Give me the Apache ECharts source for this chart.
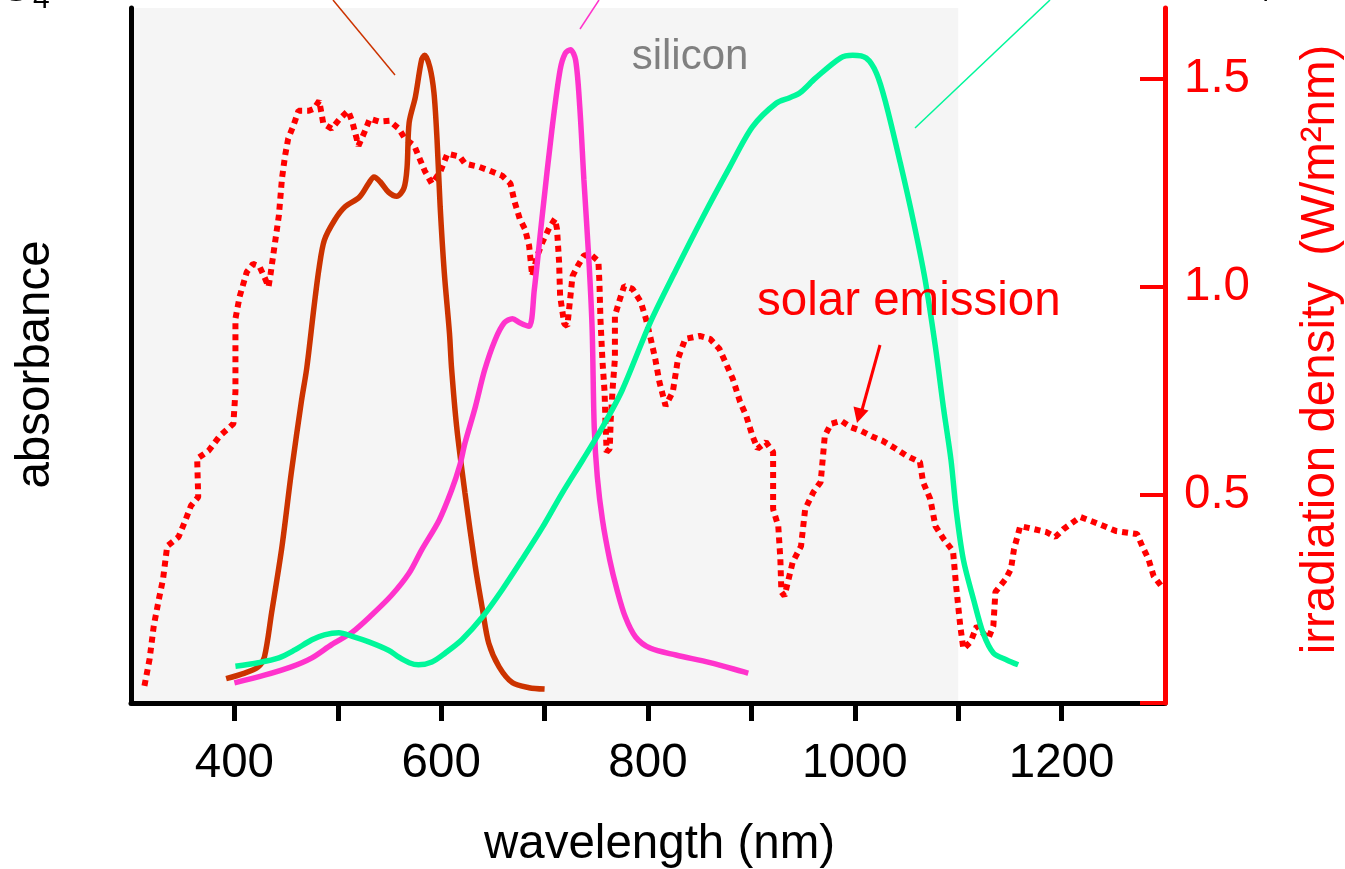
<!DOCTYPE html>
<html><head><meta charset="utf-8">
<script src="https://cdn.jsdelivr.net/npm/echarts@6/dist/echarts.min.js"></script>
<style>html,body{margin:0;padding:0;background:#fff;overflow:hidden}#c{width:1345px;height:869px}</style>
</head><body><div id="c"></div>
<script>
// wavelength (nm), absorbance (arb.) — dye 1 (brown)
const brownCurve = [[392,0.035],[410,0.043],[423,0.052],[429,0.066],[436,0.13],[446,0.225],[455,0.331],[465,0.436],[470,0.482],[477,0.570],[482,0.627],[487,0.666],[497,0.695],[507,0.714],[521,0.728],[530,0.748],[535,0.757],[541,0.750],[549,0.735],[557,0.729],[564,0.741],[567,0.771],[569,0.835],[575,0.872],[581,0.925],[584,0.932],[589,0.915],[593,0.878],[596,0.810],[599,0.714],[603,0.619],[608,0.532],[610,0.482],[615,0.397],[623,0.302],[633,0.196],[640,0.134],[646,0.086],[656,0.052],[669,0.029],[685,0.022],[700,0.020]];
// dye 2 (pink)
const pinkCurve = [[400,0.029],[429,0.040],[455,0.052],[475,0.065],[494,0.084],[514,0.102],[533,0.127],[552,0.155],[569,0.187],[581,0.220],[598,0.263],[610,0.306],[618,0.342],[623,0.374],[633,0.426],[642,0.479],[652,0.522],[661,0.547],[669,0.553],[676,0.547],[685,0.542],[690,0.594],[698,0.705],[707,0.824],[715,0.911],[720,0.935],[725,0.940],[730,0.925],[734,0.858],[738,0.753],[743,0.633],[746,0.537],[748,0.397],[751,0.325],[756,0.263],[763,0.206],[770,0.163],[778,0.124],[788,0.095],[802,0.079],[827,0.069],[860,0.058],[897,0.043]];
// dye 3 (green)
const greenCurve = [[401,0.053],[423,0.058],[443,0.065],[458,0.076],[475,0.091],[487,0.098],[501,0.101],[514,0.096],[530,0.088],[549,0.076],[559,0.066],[569,0.058],[578,0.055],[591,0.059],[604,0.072],[620,0.091],[640,0.124],[659,0.163],[678,0.206],[698,0.253],[717,0.302],[737,0.350],[756,0.397],[775,0.450],[802,0.547],[827,0.623],[853,0.699],[879,0.771],[901,0.829],[924,0.863],[937,0.871],[947,0.878],[962,0.899],[986,0.928],[998,0.932],[1011,0.928],[1021,0.906],[1030,0.863],[1044,0.777],[1057,0.691],[1068,0.609],[1078,0.512],[1086,0.422],[1093,0.350],[1098,0.278],[1105,0.206],[1115,0.148],[1124,0.101],[1134,0.072],[1147,0.062],[1158,0.055]];
// solar irradiation density (W/m2nm)
const solarCurve = [[313,0.041],[318,0.106],[322,0.185],[327,0.250],[331,0.298],[335,0.377],[346,0.399],[352,0.435],[358,0.474],[365,0.495],[364,0.587],[375,0.606],[386,0.642],[399,0.671],[401,0.748],[401,0.923],[405,0.976],[412,1.036],[418,1.055],[424,1.050],[429,1.024],[433,1.000],[435,1.031],[438,1.084],[443,1.171],[446,1.260],[449,1.315],[452,1.356],[457,1.387],[462,1.423],[472,1.423],[477,1.428],[482,1.447],[486,1.392],[494,1.380],[502,1.404],[510,1.423],[514,1.397],[520,1.339],[526,1.373],[531,1.404],[540,1.397],[550,1.399],[559,1.380],[565,1.356],[574,1.339],[578,1.315],[584,1.279],[591,1.248],[599,1.276],[606,1.320],[618,1.313],[623,1.296],[637,1.288],[647,1.279],[659,1.267],[667,1.248],[671,1.204],[676,1.163],[681,1.139],[685,1.099],[688,1.026],[693,1.075],[698,1.108],[705,1.144],[710,1.163],[712,1.139],[714,1.060],[715,0.978],[719,0.911],[722,0.906],[725,0.978],[727,1.026],[732,1.050],[738,1.075],[744,1.079],[752,1.062],[753,1.012],[754,0.923],[756,0.820],[758,0.748],[759,0.666],[760,0.603],[763,0.611],[764,0.683],[766,0.762],[768,0.827],[768,0.930],[772,0.964],[777,1.002],[785,0.995],[793,0.964],[798,0.923],[802,0.882],[807,0.827],[811,0.772],[817,0.714],[824,0.748],[829,0.827],[836,0.875],[850,0.882],[860,0.875],[869,0.851],[882,0.779],[889,0.724],[895,0.690],[901,0.642],[906,0.611],[914,0.627],[921,0.603],[921,0.466],[926,0.425],[928,0.346],[929,0.267],[932,0.257],[940,0.339],[948,0.377],[952,0.466],[960,0.507],[967,0.531],[971,0.642],[977,0.671],[987,0.678],[996,0.663],[1006,0.654],[1018,0.639],[1027,0.630],[1037,0.615],[1050,0.594],[1063,0.579],[1066,0.531],[1073,0.490],[1078,0.425],[1086,0.394],[1095,0.365],[1098,0.281],[1102,0.185],[1105,0.130],[1112,0.147],[1118,0.185],[1129,0.154],[1134,0.185],[1136,0.267],[1146,0.298],[1151,0.322],[1154,0.370],[1160,0.425],[1173,0.418],[1185,0.411],[1194,0.399],[1202,0.418],[1218,0.447],[1231,0.435],[1253,0.413],[1273,0.406],[1278,0.377],[1284,0.346],[1289,0.305],[1297,0.279]];

const siliconRange = [300, 1100];
const xTickValues = [400, 500, 600, 700, 800, 900, 1000, 1100, 1200];
const xLabelValues = [400, 600, 800, 1000, 1200];
const rightTickValues = [0, 0.5, 1.0, 1.5];
const rightLabelValues = [0.5, 1.0, 1.5];

const FONT = "'Liberation Sans', Arial, sans-serif";
const FS = 47.5;
const chart = echarts.init(document.getElementById('c'), null, {renderer: 'canvas'});

chart.setOption({
  animation: false,
  backgroundColor: '#ffffff',
  grid: {left: 131, right: 180, top: 8, bottom: 166, containLabel: false, outerBoundsMode: 'none'},
  xAxis: {
    type: 'value', min: 300, max: 1300, interval: 100, z: 5,
    name: 'wavelength (nm)', nameLocation: 'middle', nameGap: 118,
    nameTextStyle: {fontFamily: FONT, fontSize: FS, color: '#000', padding: [0, 0, 0, 23]},
    axisLine: {show: true, lineStyle: {color: '#000', width: 5}},
    axisTick: {show: true, length: 18, lineStyle: {color: '#000', width: 5}, customValues: xTickValues},
    axisLabel: {fontFamily: FONT, fontSize: FS, color: '#000', margin: 37, customValues: xLabelValues,
      formatter: v => String(v)},
    splitLine: {show: false}
  },
  yAxis: [{
    type: 'value', min: 0, max: 1, position: 'left', z: 5,
    name: 'absorbance', nameLocation: 'middle', nameGap: 71, nameRotate: 90,
    nameTextStyle: {fontFamily: FONT, fontSize: FS, color: '#000', padding: [0, 0, 0, -18]},
    axisLine: {show: true, lineStyle: {color: '#000', width: 5}},
    axisTick: {show: false}, axisLabel: {show: false}, splitLine: {show: false}
  }, {
    type: 'value', min: 0, max: 1.67, position: 'right', z: 6,
    name: 'irradiation density  (W/m²nm)', nameLocation: 'middle', nameGap: 132, nameRotate: 90,
    nameTextStyle: {fontFamily: FONT, fontSize: FS, color: '#ff0000', padding: [0, 0, 0, 12]},
    axisLine: {show: true, lineStyle: {color: '#ff0000', width: 5}},
    axisTick: {show: true, inside: true, length: 25, lineStyle: {color: '#ff0000', width: 4}, customValues: rightTickValues},
    axisLabel: {fontFamily: FONT, fontSize: FS, color: '#ff0000', margin: 19, customValues: rightLabelValues,
      formatter: v => Number(v).toFixed(1)},
    splitLine: {show: false}
  }],
  series: [{
    type: 'line', yAxisIndex: 1, data: solarCurve, symbol: 'none', z: 2,
    lineStyle: {color: '#ff0000', width: 6, type: [6, 5]},
    markArea: {silent: true, itemStyle: {color: '#f5f5f5'},
      data: [[{xAxis: siliconRange[0]}, {xAxis: siliconRange[1]}]]}
  }, {
    type: 'line', yAxisIndex: 0, data: brownCurve, symbol: 'none', smooth: 0.3, z: 3,
    lineStyle: {color: '#cc3300', width: 5.5}
  }, {
    type: 'line', yAxisIndex: 0, data: pinkCurve, symbol: 'none', smooth: 0.3, z: 3,
    lineStyle: {color: '#ff33cc', width: 5.5}
  }, {
    type: 'line', yAxisIndex: 0, data: greenCurve, symbol: 'none', smooth: 0.3, z: 3,
    lineStyle: {color: '#00f79a', width: 5.5}
  }],
  graphic: [
    {type: 'line', shape: {x1: 333, y1: 0, x2: 395, y2: 75}, style: {stroke: '#cc3300', lineWidth: 1.5}, z: 10},
    {type: 'line', shape: {x1: 599, y1: 0, x2: 580, y2: 29}, style: {stroke: '#ff33cc', lineWidth: 1.5}, z: 10},
    {type: 'line', shape: {x1: 1050, y1: 0, x2: 915, y2: 128}, style: {stroke: '#00f79a', lineWidth: 1.5}, z: 10},
    {type: 'text', x: 690, y: 57, z: 10, style: {text: 'silicon', font: '42px ' + FONT, fill: '#808080', align: 'center', verticalAlign: 'middle'}},
    {type: 'text', x: 757, y: 302, z: 10, style: {text: 'solar emission', font: FS + 'px ' + FONT, fill: '#ff0000', align: 'left', verticalAlign: 'middle'}},
    {type: 'line', shape: {x1: 880, y1: 345, x2: 862, y2: 410}, style: {stroke: '#ff0000', lineWidth: 3}, z: 10},
    {type: 'polygon', shape: {points: [[857, 423], [853.5, 406.5], [868.5, 410.5]]}, style: {fill: '#ff0000'}, z: 10},
    {type: 'text', x: 34, y: -12, z: 10, style: {text: 'SiO', font: '46px ' + FONT, fill: '#000', align: 'right', verticalAlign: 'middle'}},
    {type: 'text', x: 33, y: 0, z: 10, style: {text: '4', font: '30px ' + FONT, fill: '#000', align: 'left', verticalAlign: 'middle'}},
    {type: 'text', x: 1254, y: -7, z: 10, style: {text: '4', font: '30px ' + FONT, fill: '#000', align: 'left', verticalAlign: 'middle'}}
  ]
});
</script>
</body></html>
